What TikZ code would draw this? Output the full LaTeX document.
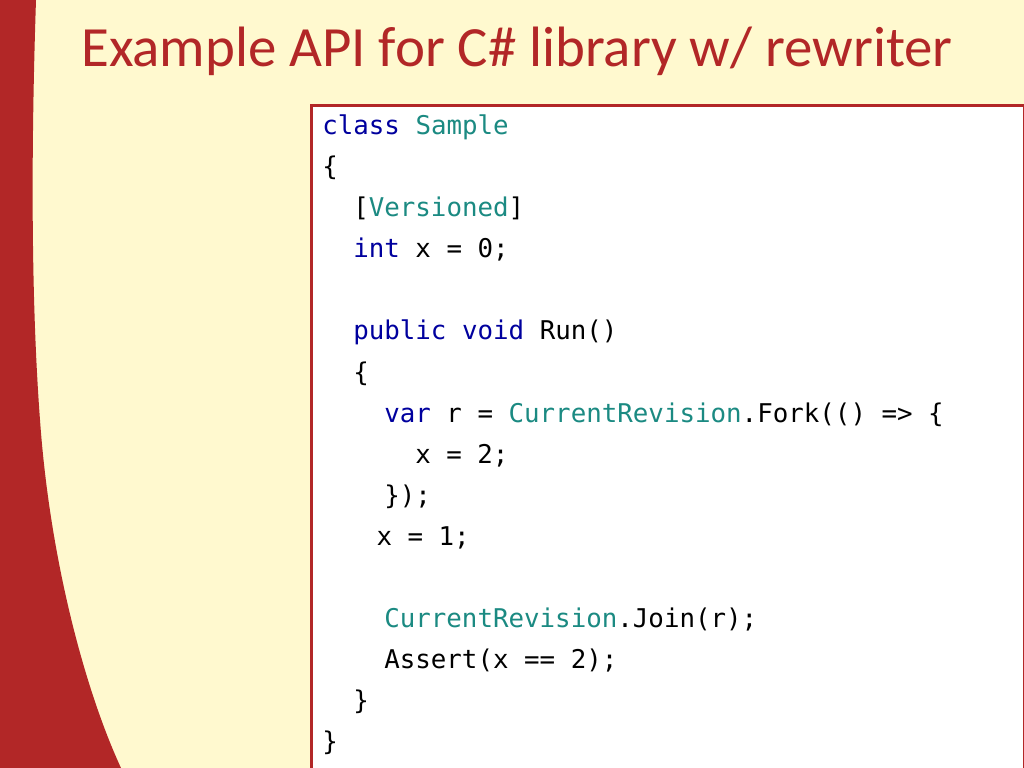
\documentclass[tikz,border=0pt]{standalone}
\usepackage{fontspec}
\setmainfont{Carlito}
\newfontfamily\codefont{DejaVu Sans Mono}[Scale=1.0]
\definecolor{slidered}{HTML}{B22727}
\definecolor{cream}{HTML}{FFF9CF}
\definecolor{kwblue}{HTML}{00009E}
\definecolor{typeteal}{HTML}{1B8A82}
\begin{document}
\begin{tikzpicture}[x=0.703125pt,y=-0.703125pt,
  codeline/.style={anchor=base west,inner sep=0pt,font=\codefont\fontsize{18.15}{18.15}\selectfont,text=black},
  titletext/.style={anchor=base west,inner sep=0pt,font=\fontsize{40}{40}\selectfont,text=slidered}]
\useasboundingbox (0,0) rectangle (1024,768);
\clip (0,0) rectangle (1024,768);
\fill[cream] (0,0) rectangle (1024,768);
\fill[slidered] (0,0) -- (36,0) .. controls (31,150) and (31,300) .. (40,420) .. controls (50,560) and (85,690) .. (121,768) -- (0,768) -- cycle;
\node[titletext] (title) at (81,67) {Example API for C\# library w/ rewriter};
\node[draw=slidered,line width=2.2pt,fill=white,minimum width=713*0.703125pt,minimum height=700*0.703125pt,anchor=north west,inner sep=0pt] (box) at (310,104) {};
\def\bx{322}
\def\cw{15.5}
\node[codeline] (l1) at (\bx,135) {\textcolor{kwblue}{class} \textcolor{typeteal}{Sample}};
\node[codeline] (l2) at (\bx,176) {\{};
\node[codeline] (l3) at (\bx+2*\cw,217) {[\textcolor{typeteal}{Versioned}]};
\node[codeline] (l4) at (\bx+2*\cw,258) {\textcolor{kwblue}{int} x = 0;};
\node[codeline] (l6) at (\bx+2*\cw,340) {\textcolor{kwblue}{public} \textcolor{kwblue}{void} Run()};
\node[codeline] (l7) at (\bx+2*\cw,381) {\{};
\node[codeline] (l8) at (\bx+4*\cw,422) {\textcolor{kwblue}{var} r = \textcolor{typeteal}{CurrentRevision}.Fork(() => \{};
\node[codeline] (l9) at (\bx+6*\cw,463) {x = 2;};
\node[codeline] (l10) at (\bx+4*\cw,504) {\});};
\node[codeline] (l11) at (\bx+3.5*\cw,545) {x = 1;};
\node[codeline] (l13) at (\bx+4*\cw,627) {\textcolor{typeteal}{CurrentRevision}.Join(r);};
\node[codeline] (l14) at (\bx+4*\cw,668) {Assert(x == 2);};
\node[codeline] (l15) at (\bx+2*\cw,709) {\}};
\node[codeline] (l16) at (\bx,750) {\}};
\end{tikzpicture}
\end{document}
